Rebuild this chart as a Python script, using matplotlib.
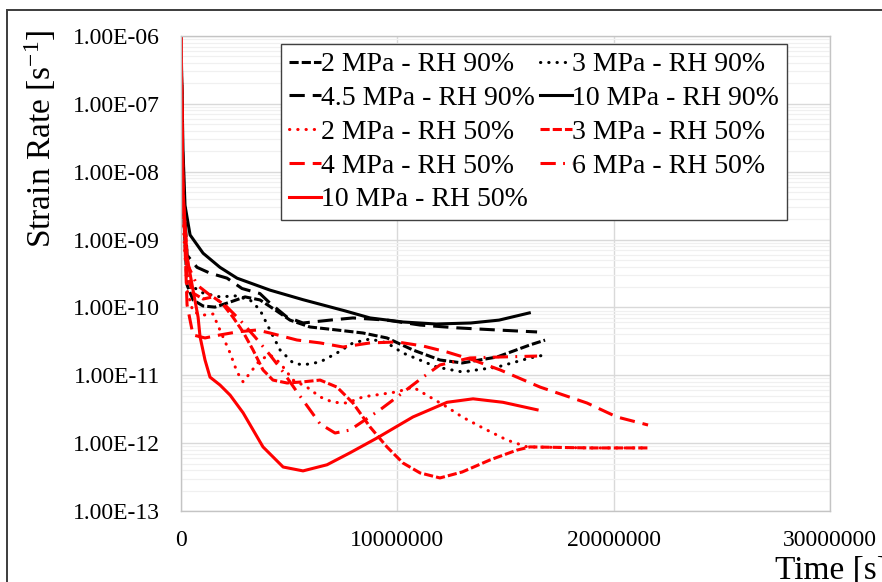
import matplotlib
matplotlib.use("Agg")
import matplotlib.pyplot as plt
from matplotlib.ticker import FixedLocator, FuncFormatter, LogLocator, NullFormatter
from matplotlib.patches import Rectangle

plt.rcParams["font.family"] = ["Liberation Serif", "DejaVu Serif"]
plt.rcParams["mathtext.default"] = "regular"

# ---- creep strain-rate data: time [s], strain rate [1/s] ----
t_2_rh90 = [0, 9.2e4, 2.8e5, 5.55e5, 1.02e6, 1.57e6, 2.27e6, 2.96e6, 3.65e6, 4.35e6,
            5.04e6, 5.96e6, 7.21e6, 8.41e6, 9.52e6, 1.072e7, 1.197e7, 1.30e7, 1.461e7,
            1.613e7, 1.683e7]
sr_2_rh90 = [1e-6, 3.8e-9, 2.14e-10, 1.29e-10, 1.05e-10, 1.01e-10, 1.2e-10, 1.43e-10,
             1.29e-10, 9.2e-11, 6.5e-11, 5.15e-11, 4.65e-11, 4.2e-11, 3.55e-11, 2.36e-11,
             1.68e-11, 1.52e-11, 1.86e-11, 2.8e-11, 3.3e-11]

t_3_rh90 = [0, 9.2e4, 2.8e5, 5.55e5, 1.02e6, 1.80e6, 2.50e6, 3.19e6, 3.65e6, 4.11e6,
            4.58e6, 5.18e6, 5.64e6, 6.43e6, 7.21e6, 7.95e6, 8.74e6, 9.52e6, 1.026e7,
            1.183e7, 1.30e7, 1.461e7, 1.613e7, 1.683e7]
sr_3_rh90 = [1e-6, 2.7e-9, 2.8e-10, 2.0e-10, 1.63e-10, 1.43e-10, 1.48e-10, 1.29e-10,
             9.2e-11, 4.65e-11, 2.36e-11, 1.52e-11, 1.42e-11, 1.57e-11, 2.13e-11, 3.0e-11,
             3.43e-11, 3.0e-11, 2.13e-11, 1.32e-11, 1.12e-11, 1.32e-11, 1.8e-11, 2.0e-11]

t_45_rh90 = [0, 9.2e4, 2.8e5, 7.4e5, 1.34e6, 2.13e6, 2.82e6, 3.65e6, 4.11e6, 4.90e6,
             5.64e6, 6.89e6, 7.95e6, 9.52e6, 1.105e7, 1.276e7, 1.461e7, 1.646e7]
sr_45_rh90 = [1e-6, 7.5e-9, 5.9e-10, 3.9e-10, 3.2e-10, 2.7e-10, 1.9e-10, 1.6e-10,
              1.16e-10, 7.2e-11, 5.9e-11, 6.5e-11, 7.0e-11, 6.5e-11, 5.5e-11, 5.0e-11,
              4.65e-11, 4.35e-11]

t_10_rh90 = [0, 9.2e4, 1.85e5, 4.2e5, 1.02e6, 1.80e6, 2.59e6, 4.11e6, 5.64e6, 7.58e6,
             8.74e6, 1.026e7, 1.18e7, 1.34e7, 1.47e7, 1.61e7]
sr_10_rh90 = [1e-6, 2.1e-8, 3.2e-9, 1.17e-9, 6.3e-10, 3.9e-10, 2.7e-10, 1.8e-10, 1.3e-10,
              8.9e-11, 7.0e-11, 6.1e-11, 5.7e-11, 5.9e-11, 6.5e-11, 8.3e-11]

t_2_rh50 = [0, 9.2e4, 2.8e5, 5.55e5, 1.02e6, 1.48e6, 1.80e6, 2.27e6, 2.59e6, 2.87e6,
            3.19e6, 3.65e6, 4.11e6, 4.58e6, 5.18e6, 5.82e6, 6.43e6, 7.03e6, 7.67e6, 8.41e6,
            9.99e6, 1.072e7, 1.15e7, 1.23e7, 1.30e7, 1.396e7, 1.507e7, 1.60e7, 1.89e7,
            2.159e7]
sr_2_rh50 = [1e-6, 1.9e-9, 1.81e-10, 8.6e-11, 7.7e-11, 8.0e-11, 4.65e-11, 2.13e-11,
             1.12e-11, 8.0e-12, 1.08e-11, 1.68e-11, 2.0e-11, 1.52e-11, 8.5e-12, 6.7e-12,
             4.8e-12, 4.0e-12, 3.9e-12, 4.8e-12, 5.7e-12, 6.7e-12, 4.8e-12, 3.4e-12,
             2.43e-12, 1.67e-12, 1.11e-12, 8.8e-13, 8.5e-13, 8.5e-13]

t_3_rh50 = [0, 9.2e4, 2.8e5, 5.55e5, 1.02e6, 1.48e6, 1.89e6, 2.40e6, 2.87e6, 3.33e6,
            3.79e6, 4.25e6, 4.90e6, 5.64e6, 6.43e6, 7.21e6, 7.95e6, 8.74e6, 9.52e6,
            1.026e7, 1.105e7, 1.197e7, 1.30e7, 1.428e7, 1.553e7, 1.613e7, 1.89e7, 2.159e7]
sr_3_rh50 = [1e-6, 3.8e-9, 3.0e-10, 1.63e-10, 1.33e-10, 1.43e-10, 1.16e-10, 7.2e-11,
             4.35e-11, 2.36e-11, 1.2e-11, 8.5e-12, 7.7e-12, 8.0e-12, 8.5e-12, 6.7e-12,
             3.9e-12, 1.73e-12, 8.8e-13, 5.1e-13, 3.64e-13, 3.07e-13, 3.76e-13, 5.65e-13,
             7.9e-13, 8.8e-13, 8.5e-13, 8.5e-13]

t_4_rh50 = [0, 9.2e4, 2.8e5, 5.55e5, 1.11e6, 1.80e6, 2.59e6, 3.51e6, 4.11e6, 5.36e6,
            6.43e6, 7.49e6, 8.74e6, 9.99e6, 1.119e7, 1.23e7, 1.35e7, 1.475e7, 1.66e7,
            1.877e7, 2.015e7, 2.159e7]
sr_4_rh50 = [1e-6, 5.4e-9, 1.09e-10, 3.93e-11, 3.55e-11, 3.93e-11, 4.35e-11, 4.65e-11,
             4.2e-11, 3.31e-11, 3.0e-11, 2.61e-11, 3.0e-11, 3.1e-11, 2.7e-11, 2.2e-11,
             1.68e-11, 1.2e-11, 6.7e-12, 3.9e-12, 2.43e-12, 1.85e-12]

t_6_rh50 = [0, 9.2e4, 3.2e5, 7.4e5, 1.34e6, 2.03e6, 2.73e6, 3.42e6, 4.11e6, 4.72e6,
            5.36e6, 5.96e6, 6.43e6, 7.12e6, 7.81e6, 9.2e6, 9.99e6, 1.119e7, 1.197e7,
            1.336e7, 1.475e7, 1.646e7]
sr_6_rh50 = [1e-6, 3.8e-9, 4.2e-10, 2.14e-10, 1.52e-10, 1.09e-10, 6.5e-11, 3.67e-11,
             2.0e-11, 1.12e-11, 5.7e-12, 3.1e-12, 1.92e-12, 1.41e-12, 1.56e-12, 3.1e-12,
             4.8e-12, 9.4e-12, 1.42e-11, 1.8e-11, 1.86e-11, 1.92e-11]

t_10_rh50 = [0, 9.2e4, 2.8e5, 5.55e5, 7.9e5, 8.8e5, 1.11e6, 1.34e6, 1.80e6, 2.27e6,
             2.87e6, 3.79e6, 4.72e6, 5.64e6, 6.75e6, 7.81e6, 9.06e6, 1.072e7, 1.23e7,
             1.35e7, 1.488e7, 1.646e7]
sr_10_rh50 = [1e-6, 5.4e-9, 5.5e-10, 1.81e-10, 7.2e-11, 3.7e-11, 1.68e-11, 9.4e-12,
              7.2e-12, 5.1e-12, 2.8e-12, 8.8e-13, 4.45e-13, 3.9e-13, 4.8e-13, 7.2e-13,
              1.19e-12, 2.43e-12, 4.0e-12, 4.5e-12, 4.0e-12, 3.1e-12]

y_ticks = [1e-13, 1e-12, 1e-11, 1e-10, 1e-9, 1e-8, 1e-7, 1e-6]
x_ticks = [0, 10000000, 20000000, 30000000]

# ---- figure ----
fig = plt.figure(figsize=(8.82, 5.82), dpi=100)
ax = fig.add_axes([181 / 882, 1 - 511 / 582, 649 / 882, 475 / 582])

LW = 2.2
SHORT = (3, 1)
LONG = (5, 2.6)
DOT = (0.1, 2.6)
DASHDOT = (5, 2.4, 0.6, 2.4)

h = {}
h["2_90"], = ax.plot(t_2_rh90, sr_2_rh90, color="black", lw=LW, dashes=SHORT,
                     label="2 MPa - RH 90%")
h["3_90"], = ax.plot(t_3_rh90, sr_3_rh90, color="black", lw=LW, dashes=DOT,
                     dash_capstyle="round", label="3 MPa - RH 90%")
h["45_90"], = ax.plot(t_45_rh90, sr_45_rh90, color="black", lw=LW, dashes=LONG,
                      label="4.5 MPa - RH 90%")
h["10_90"], = ax.plot(t_10_rh90, sr_10_rh90, color="black", lw=LW,
                      label="10 MPa - RH 90%")
h["2_50"], = ax.plot(t_2_rh50, sr_2_rh50, color="red", lw=LW, dashes=DOT,
                     dash_capstyle="round", label="2 MPa - RH 50%")
h["3_50"], = ax.plot(t_3_rh50, sr_3_rh50, color="red", lw=LW, dashes=SHORT,
                     label="3 MPa - RH 50%")
h["4_50"], = ax.plot(t_4_rh50, sr_4_rh50, color="red", lw=LW, dashes=LONG,
                     label="4 MPa - RH 50%")
h["6_50"], = ax.plot(t_6_rh50, sr_6_rh50, color="red", lw=LW, dashes=DASHDOT,
                     label="6 MPa - RH 50%")
h["10_50"], = ax.plot(t_10_rh50, sr_10_rh50, color="red", lw=LW,
                      label="10 MPa - RH 50%")

ax.set_yscale("log")
ax.set_ylim(1e-13, 1e-6)
ax.set_xlim(0, 30000000)

ax.yaxis.set_major_locator(FixedLocator(y_ticks))
ax.yaxis.set_minor_locator(LogLocator(base=10, subs=range(2, 10), numticks=50))
ax.yaxis.set_minor_formatter(NullFormatter())
ax.yaxis.set_major_formatter(FuncFormatter(lambda v, p: f"{v:.2E}"))
ax.xaxis.set_major_locator(FixedLocator(x_ticks))
ax.xaxis.set_major_formatter(FuncFormatter(lambda v, p: f"{int(round(v))}"))

ax.tick_params(axis="both", which="both", length=0)
ax.tick_params(axis="y", labelsize=17, pad=15)
ax.tick_params(axis="x", labelsize=17, pad=14)

ax.grid(True, which="major", axis="both", color="#d9d9d9", lw=1.0)
ax.grid(True, which="minor", axis="y", color="#f0f0f0", lw=0.9)
ax.set_axisbelow(True)
for s in ax.spines.values():
    s.set_color("#c4c4c4")
    s.set_linewidth(1.0)

# legend, filled column by column
order = ["2_90", "45_90", "2_50", "4_50", "10_50", "3_90", "10_90", "3_50", "6_50"]
leg = ax.legend(handles=[h[k] for k in order], ncol=2, loc="upper left",
                bbox_to_anchor=(0.154, 0.983), borderaxespad=0, fontsize=20,
                handlelength=1.15, handletextpad=0.0, columnspacing=0.2,
                labelspacing=0.3, borderpad=0.28, fancybox=False, framealpha=1)
leg.get_frame().set_edgecolor("#404040")
leg.get_frame().set_linewidth(1.0)

fig.text(40 / 882, 1 - 139 / 582, "Strain Rate [s$^{-1}$]", rotation=90,
         ha="center", va="center", fontsize=24)
fig.text(775 / 882, 1 - 579 / 582, "Time [s]", ha="left", va="baseline", fontsize=24)

# outer chart border
fig.add_artist(Rectangle((7 / 882, -1), 3, 2 - 10 / 582, transform=fig.transFigure,
                         fill=False, edgecolor="#3c3c3c", lw=1.4, clip_on=False))

fig.savefig("out.png", dpi=100)
